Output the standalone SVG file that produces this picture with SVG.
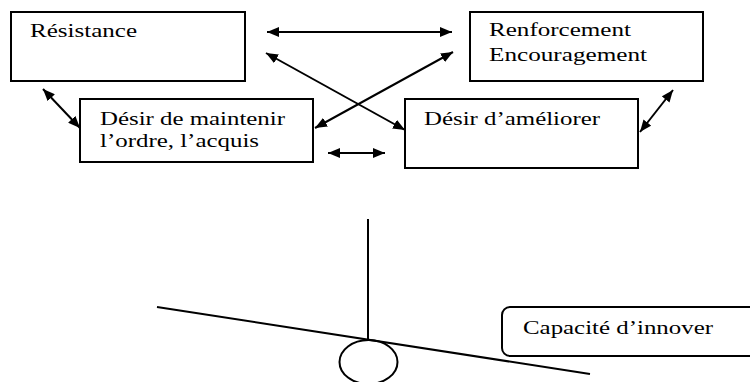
<svg xmlns="http://www.w3.org/2000/svg" width="750" height="382" viewBox="0 0 750 382">
<style>
.box{fill:#fff;stroke:#000;stroke-width:2}
.t{font-family:"Liberation Serif","Times New Roman",serif;font-size:19px;fill:#000}
.c{stroke:#000;stroke-width:2;fill:none}
</style>
<defs>
<marker id="ah" viewBox="0 0 12 10" refX="12" refY="5" markerWidth="12" markerHeight="10" markerUnits="userSpaceOnUse" orient="auto-start-reverse">
<path d="M0,0 L12,5 L0,10 z" fill="#000"/>
</marker>
</defs>
<rect width="750" height="382" fill="#fff"/>
<g id="resistance">
<rect class="box" x="11" y="12" width="234" height="69"/>
<text class="t" x="30" y="37" textLength="107" lengthAdjust="spacingAndGlyphs">Résistance</text>
</g>
<g id="renforcement">
<rect class="box" x="470" y="12" width="233" height="69"/>
<text class="t" x="489" y="36" textLength="142" lengthAdjust="spacingAndGlyphs">Renforcement</text>
<text class="t" x="489" y="61" textLength="158" lengthAdjust="spacingAndGlyphs">Encouragement</text>
</g>
<g id="maintenir">
<rect class="box" x="80" y="99" width="233" height="63"/>
<text class="t" x="100" y="125" textLength="185" lengthAdjust="spacingAndGlyphs">Désir de maintenir</text>
<text class="t" x="100" y="147" textLength="159" lengthAdjust="spacingAndGlyphs">l’ordre, l’acquis</text>
</g>
<g id="ameliorer">
<rect class="box" x="405" y="99" width="233" height="69"/>
<text class="t" x="424" y="125" textLength="176" lengthAdjust="spacingAndGlyphs">Désir d’améliorer</text>
</g>
<g id="connectors">
<line class="c" x1="267" y1="32" x2="452" y2="32" marker-start="url(#ah)" marker-end="url(#ah)"/>
<line class="c" x1="266" y1="53" x2="405" y2="130" marker-start="url(#ah)" marker-end="url(#ah)"/>
<line class="c" x1="453" y1="52" x2="315" y2="128" marker-start="url(#ah)" marker-end="url(#ah)"/>
<line class="c" x1="43" y1="89" x2="80" y2="128" marker-start="url(#ah)" marker-end="url(#ah)"/>
<line class="c" x1="673" y1="90" x2="640" y2="132" marker-start="url(#ah)" marker-end="url(#ah)"/>
<line class="c" x1="328" y1="153" x2="385" y2="153" marker-start="url(#ah)" marker-end="url(#ah)"/>
</g>
<g id="balance">
<line class="c" x1="368" y1="219" x2="368" y2="339"/>
<line class="c" x1="157" y1="307" x2="590" y2="374"/>
<ellipse class="c" cx="368.5" cy="362" rx="29" ry="22"/>
</g>
<g id="capacite">
<rect class="box" x="502" y="307" width="260" height="49" rx="8" ry="8"/>
<text class="t" x="523" y="334" textLength="190" lengthAdjust="spacingAndGlyphs">Capacité d’innover</text>
</g>
</svg>
